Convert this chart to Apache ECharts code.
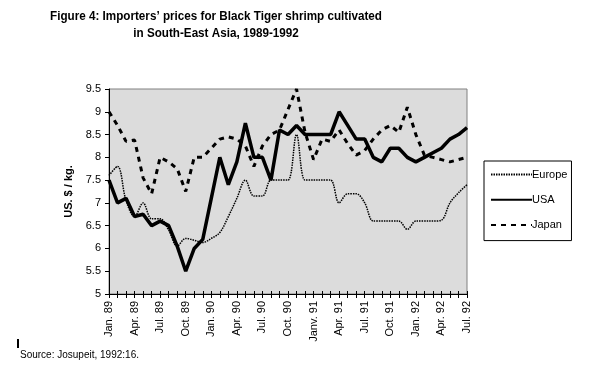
<!DOCTYPE html>
<html>
<head>
<meta charset="utf-8">
<script src="https://cdn.jsdelivr.net/npm/echarts@6/dist/echarts.min.js"></script>
<style>
html,body{margin:0;padding:0;background:#fff;}
#chart{width:597px;height:374px;}
</style>
</head>
<body>
<div id="chart"></div>
<script>
var months = ["Jan. 89","Feb. 89","Mar. 89","Apr. 89","May 89","Jun. 89","Jul. 89","Aug. 89","Sep. 89","Oct. 89","Nov. 89","Dec. 89",
  "Jan. 90","Feb. 90","Mar. 90","Apr. 90","May 90","Jun. 90","Jul. 90","Aug. 90","Sep. 90","Oct. 90","Nov. 90","Dec. 90",
  "Janv. 91","Feb. 91","Mar. 91","Apr. 91","May 91","Jun. 91","Jul. 91","Aug. 91","Sep. 91","Oct. 91","Nov. 91","Dec. 91",
  "Jan. 92","Feb. 92","Mar. 92","Apr. 92","May 92","Jun. 92","Jul. 92"];
var europe = [7.6,7.8,7.05,6.7,7.0,6.65,6.65,6.4,6.05,6.22,6.18,6.13,6.22,6.35,6.7,7.1,7.5,7.15,7.15,7.5,7.5,7.5,8.5,7.5,
  7.5,7.5,7.5,7.0,7.2,7.2,7.0,6.6,6.6,6.6,6.6,6.42,6.6,6.6,6.6,6.62,7.0,7.22,7.4];
var usa = [7.5,7.0,7.1,6.7,6.75,6.5,6.6,6.5,6.05,5.5,6.0,6.2,7.1,8.0,7.4,7.9,8.75,8.0,8.0,7.5,8.6,8.5,8.7,8.5,
  8.5,8.5,8.5,9.0,8.7,8.4,8.4,8.0,7.9,8.2,8.2,8.0,7.9,8.0,8.1,8.2,8.4,8.5,8.65];
var japan = [9.0,8.7,8.35,8.38,7.55,7.2,8.0,7.9,7.75,7.25,8.0,8.0,8.2,8.4,8.45,8.4,8.25,7.8,8.25,8.5,8.6,9.05,9.5,8.55,
  7.95,8.4,8.35,8.6,8.3,8.05,8.15,8.4,8.6,8.7,8.55,9.1,8.5,8.05,8.0,7.95,7.9,7.95,8.0];
var yTicks = {min: 5, max: 9.5, step: 0.5};
var titleLines = ["Figure 4: Importers\u2019 prices for Black Tiger shrimp cultivated", "in South-East Asia, 1989-1992"];

var titleFont = "bold 13px 'Liberation Sans', Arial, sans-serif";
var mctx = document.createElement('canvas').getContext('2d');
mctx.font = titleFont;
var w1 = mctx.measureText(titleLines[0]).width;
var sx = 332 / w1;

var chart = echarts.init(document.getElementById('chart'), null, {renderer: 'canvas'});
var F = "'Liberation Sans', Arial, sans-serif";
chart.setOption({
  animation: false,
  backgroundColor: '#fff',
  grid: {left: 109, top: 89, right: 130, bottom: 80, show: true, backgroundColor: '#dcdcdc', borderColor: '#808080', borderWidth: 1},
  legend: {
    orient: 'vertical', left: 484, top: 161,
    backgroundColor: '#fff', borderColor: '#000', borderWidth: 1,
    padding: [8, 4, 10, 6], itemGap: 14, itemWidth: 41, itemHeight: 14,
    itemStyle: {opacity: 0},
    textStyle: {fontFamily: F, fontSize: 11, color: '#000', padding: [0,0,0,-5]},
    data: ['Europe','USA','Japan']
  },
  xAxis: [{
    type: 'category', data: months, boundaryGap: false,
    axisLine: {lineStyle: {color: '#000', width: 1}},
    axisTick: {show: true, interval: 0, length: 4, lineStyle: {color: '#000'}},
    axisLabel: {interval: 2, rotate: 90, margin: 7, fontFamily: F, fontSize: 11, color: '#000'}
  }, {
    type: 'category', data: months, boundaryGap: false, position: 'bottom',
    axisLine: {show: false},
    axisTick: {show: true, inside: true, interval: 0, length: 3, lineStyle: {color: '#000'}},
    axisLabel: {show: false}
  }],
  yAxis: {
    type: 'value', min: yTicks.min, max: yTicks.max, interval: yTicks.step,
    name: 'US. $ / kg.', nameLocation: 'middle', nameGap: 27, nameRotate: 90,
    nameTextStyle: {fontFamily: F, fontWeight: 'bold', fontSize: 11, color: '#000'},
    axisLine: {show: true, lineStyle: {color: '#000', width: 1}},
    axisTick: {show: true, length: 4, lineStyle: {color: '#000'}},
    axisLabel: {margin: 8, fontFamily: F, fontSize: 11, color: '#000'},
    splitLine: {show: false}
  },
  series: [
    {name: 'Europe', type: 'line', data: europe, smooth: 0.35, symbol: 'none',
     lineStyle: {color: '#000', width: 1.5, type: [1.5, 1]}, itemStyle: {color: '#000'}},
    {name: 'USA', type: 'line', data: usa, smooth: false, symbol: 'none',
     lineStyle: {color: '#000', width: 3.5}, itemStyle: {color: '#000'}},
    {name: 'Japan', type: 'line', data: japan, smooth: false, symbol: 'none',
     lineStyle: {color: '#000', width: 3, type: [5, 5]}, itemStyle: {color: '#000'}}
  ],
  graphic: [
    {type: 'text', x: 216, y: 10, scaleX: sx, originX: 0,
     style: {text: titleLines[0], font: titleFont, fill: '#000', align: 'center', verticalAlign: 'top'}},
    {type: 'text', x: 216, y: 27, scaleX: sx, originX: 0,
     style: {text: titleLines[1], font: titleFont, fill: '#000', align: 'center', verticalAlign: 'top'}},
    {type: 'text', left: 20, top: 350, style: {text: 'Source: Josupeit, 1992:16.', font: "10px 'Liberation Sans', Arial, sans-serif", fill: '#000'}},
    {type: 'rect', shape: {x: 17, y: 339, width: 2, height: 9}, style: {fill: '#000'}}
  ]
});
</script>
</body>
</html>
